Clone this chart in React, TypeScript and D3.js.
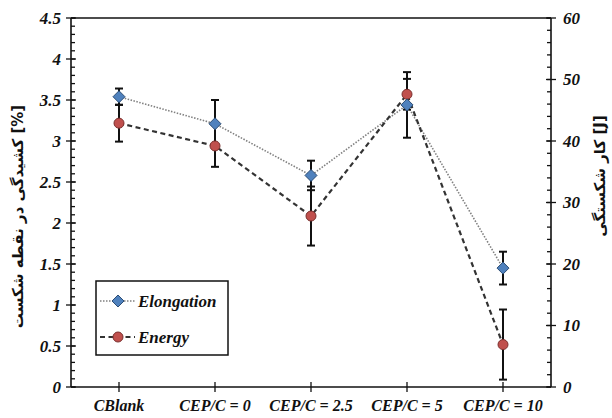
import React from "react";
import * as d3 from "d3";

const categories = ["CBlank", "CEP/C = 0", "CEP/C = 2.5", "CEP/C = 5", "CEP/C = 10"];
const elongation = [3.54, 3.21, 2.58, 3.44, 1.45];
const elongationErr = [0.1, 0.29, 0.18, 0.4, 0.2];
const energy = [42.9, 39.2, 27.8, 47.6, 6.9];
const energyErr = [3.0, 3.4, 4.8, 2.5, 5.7];
const leftTicks = [0, 0.5, 1, 1.5, 2, 2.5, 3, 3.5, 4, 4.5];
const rightTicks = [0, 10, 20, 30, 40, 50, 60];
const leftTitle = "کشیدگی در نقطه شکست [%]";
const rightTitle = "کار شکستگی [J]";
const legendLabels = ["Elongation", "Energy"];

const W = 612, H = 418;
const L = 71, R = 551, T = 18, B = 387;
const FONT = "Liberation Serif, Times New Roman, DejaVu Serif, serif";
const serifStyle: React.CSSProperties = { fontFamily: FONT, fontWeight: 700, fontStyle: "italic" };

export default function App() {
  const x = d3.scalePoint<string>().domain(categories).range([L, R]).padding(0.5);
  const yL = d3.scaleLinear().domain([0, 4.5]).range([B, T]);
  const yR = d3.scaleLinear().domain([0, 60]).range([B, T]);

  const lineE = d3.line<number>().x((_, i) => x(categories[i])!).y((d) => yL(d));
  const lineN = d3.line<number>().x((_, i) => x(categories[i])!).y((d) => yR(d));

  const minorL = d3.range(0, 4.5001, 0.1);
  const minorR = d3.range(0, 60.001, 2);

  const diamond = (cx: number, cy: number, r = 6) =>
    `M${cx},${cy - r}L${cx + r},${cy}L${cx},${cy + r}L${cx - r},${cy}Z`;

  const errBar = (cx: number, y1: number, y2: number, key: string) => (
    <g key={key} stroke="#111" strokeWidth={2}>
      <line x1={cx} x2={cx} y1={y1} y2={y2} />
      <line x1={cx - 4} x2={cx + 4} y1={y1} y2={y1} />
      <line x1={cx - 4} x2={cx + 4} y1={y2} y2={y2} />
    </g>
  );

  const lx0 = 100, lx1 = 135, lmx = 118;
  const ly = [301, 337];

  return (
    <svg width={W} height={H} style={{ position: "absolute", left: 0, top: 0, background: "#fff" }}>
      <rect x={0} y={0} width={W} height={H} fill="#fff" />
      <g stroke="#111" strokeWidth={1.6} fill="none">
        <line x1={L} x2={R} y1={T} y2={T} />
        <line x1={L} x2={R} y1={B} y2={B} />
        <line x1={L} x2={L} y1={T} y2={B} />
        <line x1={R} x2={R} y1={T} y2={B} />
      </g>
      <g stroke="#111" strokeWidth={1.3}>
        {minorL.map((v, i) => (
          <line key={"ml" + i} x1={L} x2={L + 4} y1={yL(v)} y2={yL(v)} />
        ))}
        {leftTicks.map((v) => (
          <line key={"Ml" + v} x1={L - 5} x2={L + 5} y1={yL(v)} y2={yL(v)} />
        ))}
        {minorR.map((v, i) => (
          <line key={"mr" + i} x1={R - 4} x2={R} y1={yR(v)} y2={yR(v)} />
        ))}
        {rightTicks.map((v) => (
          <line key={"Mr" + v} x1={R - 5} x2={R + 5} y1={yR(v)} y2={yR(v)} />
        ))}
        {categories.map((c) => (
          <line key={"xt" + c} x1={x(c)!} x2={x(c)!} y1={B - 5} y2={B + 5} />
        ))}
      </g>
      <g style={serifStyle} fontSize={17} fill="#111">
        {leftTicks.map((v) => (
          <text key={"tl" + v} x={L - 10} y={yL(v)} dy="0.35em" textAnchor="end" style={serifStyle}>
            {String(v)}
          </text>
        ))}
        {rightTicks.map((v) => (
          <text key={"tr" + v} x={R + 12} y={yR(v)} dy="0.35em" textAnchor="start" style={serifStyle}>
            {String(v)}
          </text>
        ))}
        {categories.map((c) => (
          <text key={"tx" + c} x={x(c)!} y={411} textAnchor="middle" fontSize={16} style={serifStyle}>
            {c}
          </text>
        ))}
      </g>
      <text
        transform={`translate(23,${(T + B) / 2 + 14}) rotate(-90)`}
        textAnchor="middle"
        style={{ fontFamily: "DejaVu Sans, sans-serif", fontWeight: 700 }}
        fontSize={15}
        fill="#111"
      >
        {leftTitle}
      </text>
      <text
        transform={`translate(605,176) rotate(-90)`}
        textAnchor="middle"
        style={{ fontFamily: "DejaVu Sans, sans-serif", fontWeight: 700 }}
        fontSize={15}
        fill="#111"
      >
        {rightTitle}
      </text>
      <path d={lineE(elongation)!} fill="none" stroke="#808080" strokeWidth={1.6} strokeDasharray="1.5,1.5" />
      <path d={lineN(energy)!} fill="none" stroke="#333" strokeWidth={2.2} strokeDasharray="5,3.5" />
      {elongation.map((v, i) =>
        errBar(x(categories[i])!, yL(v + elongationErr[i]), yL(v - elongationErr[i]), "ee" + i)
      )}
      {energy.map((v, i) =>
        errBar(x(categories[i])!, yR(v + energyErr[i]), yR(Math.max(0, v - energyErr[i])), "en" + i)
      )}
      {energy.map((v, i) => (
        <circle key={"c" + i} cx={x(categories[i])!} cy={yR(v)} r={5} fill="#c0504d" stroke="#7a2f2d" strokeWidth={1} />
      ))}
      {elongation.map((v, i) => (
        <path key={"d" + i} d={diamond(x(categories[i])!, yL(v))} fill="#4f81bd" stroke="#2c4d75" strokeWidth={1} />
      ))}
      <rect x={96} y={281} width={132} height={74} fill="#fff" stroke="#111" strokeWidth={1.5} />
      <line x1={lx0} x2={lx1} y1={ly[0]} y2={ly[0]} stroke="#808080" strokeWidth={1.6} strokeDasharray="1.5,1.5" />
      <path d={diamond(lmx, ly[0])} fill="#4f81bd" stroke="#2c4d75" strokeWidth={1} />
      <line x1={lx0} x2={lx1} y1={ly[1]} y2={ly[1]} stroke="#333" strokeWidth={2.2} strokeDasharray="5,3.5" />
      <circle cx={lmx} cy={ly[1]} r={5} fill="#c0504d" stroke="#7a2f2d" strokeWidth={1} />
      <g fontSize={17} fill="#111">
        <text x={138} y={ly[0]} dy="0.35em" style={serifStyle}>{legendLabels[0]}</text>
        <text x={138} y={ly[1]} dy="0.35em" style={serifStyle}>{legendLabels[1]}</text>
      </g>
    </svg>
  );
}
